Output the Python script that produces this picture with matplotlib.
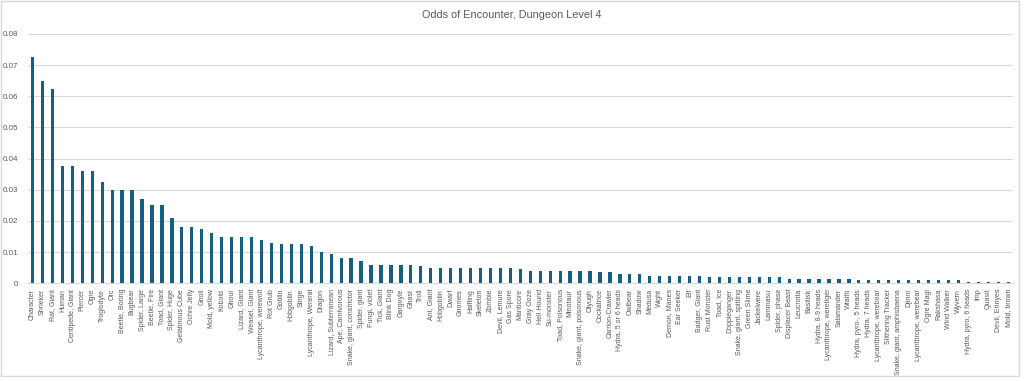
import matplotlib.pyplot as plt
from matplotlib.patches import Rectangle

plt.rcParams['font.family'] = ['Liberation Sans', 'DejaVu Sans']

# --- DATA ---
monsters = [
    "Character", "Shrieker", "Rat, Giant", "Human", "Centipede, Giant", "Piercer",
    "Ogre", "Troglodyte", "Orc", "Beetle, Boring", "Bugbear", "Spider, Large",
    "Beetle, Fire", "Toad, Giant", "Spider, Huge", "Gelatinous Cube", "Ochre Jelly",
    "Gnoll", "Mold, yellow", "Kobold", "Ghoul", "Lizard, Giant", "Weasel, Giant",
    "Lycanthrope, werewolf", "Rot Grub", "Goblin", "Hobgoblin", "Stirge",
    "Lycanthrope, Wererat", "Dragon", "Lizard, Subterranean", "Ape, Carnivorous",
    "Snake, giant, constrictor", "Spider, giant", "Fungi, violet", "Tick, Giant",
    "Blink Dog", "Gargoyle", "Ghast", "Troll", "Ant, Giant", "Hobgoblin", "Dwarf",
    "Gnomes", "Halfling", "Skeleton", "Zombie", "Devil, Lemure", "Gas Spore",
    "Manticore", "Gray Ooze", "Hell Hound", "Su-monster", "Toad, Poisonous",
    "Minotaur", "Snake, giant, poisonous", "Otyugh", "Cockatrice", "Carrion-Crawler",
    "Hydra, 5 or 6 heads", "Owlbear", "Shadow", "Medusa", "Wight", "Demon, Manes",
    "Ear Seeker", "Elf", "Badger, Giant", "Rust Monster", "Toad, Ice",
    "Doppleganger", "Snake, giant, spitting", "Green Slime", "Jackelwere",
    "Lammasu", "Spider, phase", "Displacer Beast", "Leucrotta", "Basilisk",
    "Hydra, 8-9 heads", "Lycanthrope, weretiger", "Salamander", "Wraith",
    "Hydra, pyro-, 5 heads", "Hydra, 7 heads", "Lycanthrope, wereboar",
    "Slithering Tracker", "Snake, giant, amphisbaena", "Djinni",
    "Lycanthrope, werebear", "Ogre Magi", "Rakshasa", "Wind Walker", "Wyvern",
    "Hydra, pyro, 6 heads", "Imp", "Quasit", "Devil, Erinyes", "Mold, brown",
]

odds = [
    0.0725, 0.065, 0.0625, 0.0375, 0.0375, 0.036,
    0.036, 0.0325, 0.030, 0.030, 0.030, 0.027,
    0.025, 0.025, 0.021, 0.018, 0.018,
    0.0175, 0.016, 0.015, 0.015, 0.015, 0.015,
    0.014, 0.013, 0.0125, 0.0125, 0.0125,
    0.012, 0.010, 0.0095, 0.008,
    0.008, 0.007, 0.006, 0.006,
    0.006, 0.006, 0.006, 0.0055, 0.005, 0.005, 0.005,
    0.005, 0.005, 0.005, 0.005, 0.005, 0.005,
    0.0045, 0.004, 0.004, 0.004, 0.004,
    0.004, 0.004, 0.004, 0.0035, 0.0035,
    0.003, 0.003, 0.003, 0.0025, 0.0025, 0.0025,
    0.0025, 0.0025, 0.0025, 0.002, 0.002,
    0.002, 0.002, 0.002, 0.002,
    0.002, 0.002, 0.0015, 0.0015, 0.0015,
    0.0015, 0.0015, 0.0015, 0.0015,
    0.001, 0.001, 0.001,
    0.001, 0.001, 0.001,
    0.001, 0.001, 0.001, 0.001, 0.001,
    0.0005, 0.0005, 0.0005, 0.0005, 0.0005,
]

yticks = [0, 0.01, 0.02, 0.03, 0.04, 0.05, 0.06, 0.07, 0.08]
ytick_labels = ["0", "0.01", "0.02", "0.03", "0.04", "0.05", "0.06", "0.07", "0.08"]

# --- PLOT ---
text_gray = "#595959"
grid_gray = "#d9d9d9"

fig = plt.figure(figsize=(10.24, 3.81), dpi=100)
ax = fig.add_axes([0.0269, 0.2564, 0.9625, 0.6544])

x = range(len(monsters))
ax.bar(x, odds, width=0.33, color="#156082", zorder=3)

ax.set_xlim(-0.5, len(monsters) - 0.5)
ax.set_ylim(0, 0.08)
ax.set_yticks(yticks)
ax.set_yticklabels(ytick_labels)
ax.set_xticks(list(x))
ax.set_xticklabels(monsters, rotation=90, fontsize=5)

ax.tick_params(axis="y", length=0, pad=7, labelsize=5.8, labelcolor=text_gray)
ax.tick_params(axis="x", length=0, pad=4, labelcolor=text_gray)
ax.grid(axis="y", color=grid_gray, linewidth=0.8, zorder=0)

for side in ["top", "right", "left"]:
    ax.spines[side].set_visible(False)
ax.spines["bottom"].set_color(grid_gray)
ax.spines["bottom"].set_linewidth(0.8)

fig.text(0.5, 0.96, "Odds of Encounter, Dungeon Level 4", ha="center", va="center",
         fontsize=7.8, color=text_gray)

# light chart border like the spreadsheet export
fig.patches.append(Rectangle((0.001, 0.013), 0.994, 0.984, transform=fig.transFigure,
                             fill=False, edgecolor=grid_gray, linewidth=1))

fig.savefig("out.png", dpi=100)
